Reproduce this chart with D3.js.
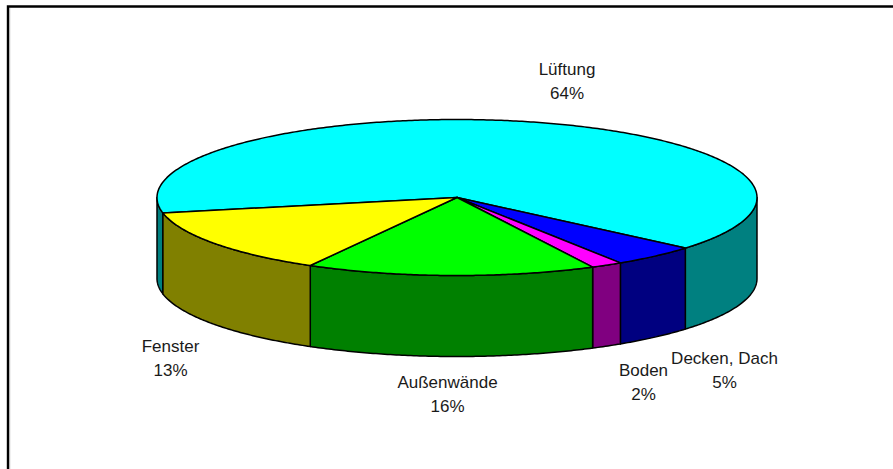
<!DOCTYPE html>
<html><head><meta charset="utf-8">
<script src="https://cdn.jsdelivr.net/npm/d3@7"></script>
<style>html,body{margin:0;padding:0;background:#fff}svg{display:block}</style>
</head><body><svg id="c" width="893" height="469"></svg>
<script>
const categories = ["Lüftung","Decken, Dach","Boden","Außenwände","Fenster"];
const shares = [64.4,4.6,1.7,15.6,13.7];
const percentLabels = ["64%","5%","2%","16%","13%"];
const topColors = ["#00ffff","#0000ff","#ff00ff","#00ff00","#ffff00"];
const sideColors = ["#008080","#000080","#800080","#008000","#808000"];
const labelX = [567,724.5,643.5,447.5,170.5];
const labelY = [75,364,376,388,352];

const svg = d3.select("#c");
svg.append("path").attr("d","M8,469V6.5H893").attr("fill","none").attr("stroke","#000").attr("stroke-width",2.4);
svg.append("path").attr("d","M9.7,469V8").attr("fill","none").attr("stroke","#b0b0b0").attr("stroke-width",1);

const x = d3.scaleLinear([-1,1],[157,757]);
const y = d3.scaleLinear([-1,1],[119.5,275.5]);
const depth = 81;
const start = 258.6*Math.PI/180;
const pie = d3.pie().sort(null).startAngle(start).endAngle(start+2*Math.PI);
const arcs = pie(shares);
const pt = t => [x(Math.sin(t)), y(-Math.cos(t))];
const steps = (a,b) => { const n=Math.max(2,Math.ceil(Math.abs(b-a)/0.01)); return d3.range(n+1).map(i=>a+(b-a)*i/n); };
const line = d3.line();
const TAU = 2*Math.PI;
const stroke = 1.5;

const g = svg.append("g");
arcs.forEach((d,i)=>{
  [0,TAU].forEach(off=>{
    const a=Math.max(d.startAngle-off,Math.PI/2), b=Math.min(d.endAngle-off,3*Math.PI/2);
    if(b<=a) return;
    const upper=steps(a,b).map(pt);
    const lower=upper.slice().reverse().map(p=>[p[0],p[1]+depth]);
    g.append("path").attr("d",line(upper.concat(lower))+"Z")
      .attr("fill",sideColors[i]).attr("stroke","#000").attr("stroke-width",stroke).attr("stroke-linejoin","round");
  });
});
arcs.forEach((d,i)=>{
  const pts=[[x(0),y(0)]].concat(steps(d.startAngle,d.endAngle).map(pt));
  g.append("path").attr("d",line(pts)+"Z")
    .attr("fill",topColors[i]).attr("stroke","#000").attr("stroke-width",stroke).attr("stroke-linejoin","round");
});
const t = svg.append("g").attr("font-family","'Liberation Sans',Arial,sans-serif").attr("font-size",17).attr("fill","#1a1a1a").attr("text-anchor","middle");
categories.forEach((c,i)=>{
  t.append("text").attr("x",labelX[i]).attr("y",labelY[i]).text(c);
  t.append("text").attr("x",labelX[i]).attr("y",labelY[i]+24).text(percentLabels[i]);
});
</script></body></html>
